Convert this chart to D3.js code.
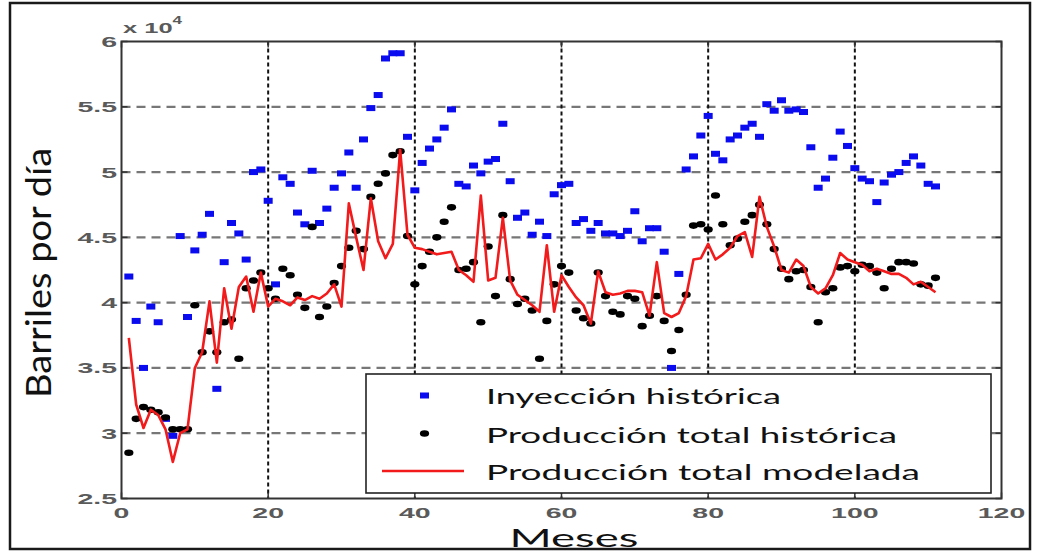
<!DOCTYPE html>
<html>
<head>
<meta charset="utf-8">
<script src="https://cdn.jsdelivr.net/npm/d3@7"></script>
<style>
  html, body { margin: 0; padding: 0; background: #fff; }
  svg { display: block; }
</style>
</head>
<body>
<svg id="chart" width="1039" height="552"></svg>
<script>
// Monthly values, in units of 10^4 barrels per day
const months = d3.range(1, 112);

const injection = [
  4.20, 3.86, 3.50, 3.97, 3.85, 3.11, 2.98, 4.51, 3.89, 4.40, 4.52, 4.68, 3.34, 4.31, 4.61, 4.53, 4.33, 5.00, 5.02, 4.78,
  4.14, 4.96, 4.91, 4.69, 4.60, 5.01, 4.61, 4.72, 4.88, 4.99, 5.15, 4.88, 5.25, 5.49, 5.59, 5.87, 5.91, 5.91, 5.27, 4.86,
  5.07, 5.18, 5.25, 5.34, 5.48, 4.91, 4.89, 5.05, 4.99, 5.08, 5.10, 5.37, 4.93, 4.65, 4.69, 4.52, 4.62, 4.51, 4.83,
  4.90, 4.91, 4.61, 4.64, 4.55, 4.61, 4.53, 4.53, 4.51, 4.55, 4.70, 4.47, 4.57, 4.57, 4.39, 3.50, 4.22, 5.02, 5.12,
  5.28, 5.43, 5.14, 5.09, 5.25, 5.28, 5.34, 5.37, 5.27, 5.52, 5.47, 5.55, 5.47, 5.48, 5.46, 5.19, 4.88, 4.95, 5.11, 5.31,
  5.20, 5.03, 4.95, 4.93, 4.77, 4.92, 4.98, 5.00, 5.07, 5.12, 5.05, 4.91, 4.89
];

const productionHist = [
  2.85, 3.11, 3.20, 3.18, 3.16, 3.12, 3.03, 3.03, 3.03, 3.98, 3.62, 3.78, 3.62, 3.85, 3.87, 3.57, 4.11, 4.17, 4.23, 4.11,
  4.03, 4.26, 4.21, 4.06, 3.96, 4.58, 3.89, 3.97, 4.15, 4.28, 4.42, 4.55, 4.41, 4.81, 4.91, 4.99, 5.13, 5.16, 4.51, 4.14,
  4.28, 4.39, 4.50, 4.62, 4.73, 4.25, 4.26, 4.31, 3.85, 4.43, 4.05, 4.67, 4.18, 3.99, 4.03, 3.94, 3.57, 3.86, 4.14,
  4.28, 4.23, 3.94, 3.88, 3.84, 4.23, 4.05, 3.93, 3.91, 4.05, 4.03, 3.82, 3.90, 4.05, 3.86, 3.63, 3.79, 4.06, 4.59,
  4.60, 4.56, 4.82, 4.60, 4.44, 4.49, 4.62, 4.67, 4.75, 4.60, 4.41, 4.26, 4.18, 4.24, 4.25, 4.12, 3.85, 4.08, 4.11, 4.27,
  4.28, 4.24, 4.29, 4.28, 4.23, 4.11, 4.26, 4.31, 4.31, 4.30, 4.14, 4.13, 4.19
];

const productionModel = [
  3.73, 3.22, 3.04, 3.18, 3.14, 3.03, 2.78, 3.00, 3.03, 3.50, 3.62, 4.01, 3.54, 4.11, 3.80, 4.12, 4.20, 3.93, 4.23, 3.97,
  4.03, 4.01, 3.98, 4.04, 4.02, 4.05, 4.03, 4.07, 4.14, 3.97, 4.76, 4.50, 4.25, 4.80, 4.47, 4.34, 4.45, 5.17, 4.52, 4.42,
  4.41, 4.39, 4.37, 4.38, 4.39, 4.25, 4.21, 4.16, 4.82, 4.17, 4.19, 4.65, 4.17, 4.06, 4.02, 3.98, 3.93, 4.44, 3.93,
  4.21, 4.12, 4.04, 3.98, 3.84, 4.24, 4.08, 4.06, 4.07, 4.09, 4.09, 4.08, 3.90, 4.31, 3.92, 3.89, 3.92, 4.05, 4.33,
  4.34, 4.45, 4.33, 4.37, 4.42, 4.51, 4.54, 4.35, 4.81, 4.58, 4.43, 4.25, 4.23, 4.33, 4.28, 4.12, 4.07, 4.11, 4.21, 4.38,
  4.33, 4.31, 4.29, 4.24, 4.26, 4.24, 4.22, 4.22, 4.19, 4.14, 4.16, 4.12, 4.08
];

const xTicks = [0, 20, 40, 60, 80, 100, 120];
const yTicks = [2.5, 3, 3.5, 4, 4.5, 5, 5.5, 6];
const yTickLabels = ["2.5", "3", "3.5", "4", "4.5", "5", "5.5", "6"];

const legendLabels = ["Inyección histórica", "Producción total histórica", "Producción total modelada"];
const xTitle = "Meses";
const yTitle = "Barriles por día";

// ---------------------------------------------------------------
const svg = d3.select("#chart");
const W = 1039, H = 552;
const plot = { left: 121.5, right: 1001.5, top: 41.5, bottom: 498.5 };

const x = d3.scaleLinear().domain([0, 120]).range([plot.left, plot.right]);
const y = d3.scaleLinear().domain([2.5, 6]).range([plot.bottom, plot.top]);

svg.append("rect").attr("width", W).attr("height", H).attr("fill", "#fff");

// outer frame
svg.append("rect")
  .attr("x", 10).attr("y", 3).attr("width", 1020).attr("height", 546)
  .attr("fill", "none").attr("stroke", "#1a1a1a").attr("stroke-width", 2.5);

// text whose glyphs are stretched to an exact advance width
function fitText(parent, str, o) {
  const t = parent.append("text")
    .attr("font-family", o.family || "Lato, 'Open Sans', sans-serif")
    .attr("font-size", o.size)
    .attr("fill", o.fill || "#000")
    .attr("font-weight", o.weight || "normal")
    .attr("text-anchor", "start")
    .text(str);
  const start = o.anchor === "middle" ? -o.width / 2 : o.anchor === "end" ? -o.width : 0;
  t.attr("x", start).attr("y", 0)
   .attr("textLength", o.width)
   .attr("lengthAdjust", "spacingAndGlyphs");
  t.attr("transform", `translate(${o.x},${o.y})` + (o.rotate ? ` rotate(${o.rotate})` : "") +
         (o.sy ? ` scale(1,${o.sy})` : ""));
  return t;
}

// grid
const grid = svg.append("g");
grid.selectAll("line.h").data(yTicks.filter(v => v > 2.5 && v < 6)).join("line")
  .attr("x1", plot.left).attr("x2", plot.right)
  .attr("y1", d => y(d)).attr("y2", d => y(d))
  .attr("stroke", "#777").attr("stroke-width", 2.2).attr("stroke-dasharray", "9 6");
grid.selectAll("line.v").data(xTicks.filter(v => v > 0 && v < 120)).join("line")
  .attr("x1", d => x(d)).attr("x2", d => x(d))
  .attr("y1", plot.top).attr("y2", plot.bottom)
  .attr("stroke", "#111").attr("stroke-width", 2).attr("stroke-dasharray", "4 3");

// axes box and inward ticks
const axes = svg.append("g");
axes.append("rect")
  .attr("x", plot.left).attr("y", plot.top)
  .attr("width", plot.right - plot.left).attr("height", plot.bottom - plot.top)
  .attr("fill", "none").attr("stroke", "#333").attr("stroke-width", 2);
const tl = 6;
xTicks.forEach(v => {
  axes.append("line").attr("x1", x(v)).attr("x2", x(v)).attr("y1", plot.bottom).attr("y2", plot.bottom - tl)
    .attr("stroke", "#333").attr("stroke-width", 1.5);
  axes.append("line").attr("x1", x(v)).attr("x2", x(v)).attr("y1", plot.top).attr("y2", plot.top + tl)
    .attr("stroke", "#333").attr("stroke-width", 1.5);
});
yTicks.forEach(v => {
  axes.append("line").attr("x1", plot.left).attr("x2", plot.left + tl).attr("y1", y(v)).attr("y2", y(v))
    .attr("stroke", "#333").attr("stroke-width", 1.5);
  axes.append("line").attr("x1", plot.right).attr("x2", plot.right - tl).attr("y1", y(v)).attr("y2", y(v))
    .attr("stroke", "#333").attr("stroke-width", 1.5);
});

// tick labels (wide, grey)
const tickFont = "'Liberation Sans', Arial, sans-serif";
yTicks.forEach((v, i) => {
  svg.append("text")
    .attr("transform", `translate(117,${y(v) + 5.5}) scale(1.9,1)`)
    .attr("text-anchor", "end")
    .attr("font-family", tickFont).attr("font-size", 15).attr("font-weight", "bold")
    .attr("fill", "#5a5a5a")
    .text(yTickLabels[i]);
});
xTicks.forEach(v => {
  svg.append("text")
    .attr("transform", `translate(${x(v)},${517.5}) scale(1.9,1)`)
    .attr("text-anchor", "middle")
    .attr("font-family", tickFont).attr("font-size", 15).attr("font-weight", "bold")
    .attr("fill", "#5a5a5a")
    .text(v);
});
// exponent label
const expo = svg.append("text")
  .attr("transform", "translate(123,33) scale(1.7,1)")
  .attr("font-family", tickFont).attr("font-size", 15).attr("font-weight", "bold").attr("fill", "#5a5a5a");
expo.append("tspan").text("x 10");
expo.append("tspan").attr("dy", -9).attr("font-size", 10).text("4");

// series
const series = svg.append("g");
series.selectAll("rect.inj").data(months).join("rect")
  .attr("x", (m) => x(m) - 4.5).attr("y", (m, i) => y(injection[i]) - 3)
  .attr("width", 9).attr("height", 6)
  .attr("fill", "#0b0bf0");
series.selectAll("ellipse.prod").data(months).join("ellipse")
  .attr("cx", m => x(m)).attr("cy", (m, i) => y(productionHist[i]))
  .attr("rx", 4.6).attr("ry", 3.3)
  .attr("fill", "#000");
const line = d3.line().x(m => x(m)).y((m, i) => y(productionModel[i]));
series.append("path").datum(months)
  .attr("d", line)
  .attr("fill", "none").attr("stroke", "#f21a1a").attr("stroke-width", 2.6)
  .attr("stroke-linejoin", "round");

// legend
const lg = svg.append("g");
lg.append("rect").attr("x", 366).attr("y", 374).attr("width", 625).attr("height", 119)
  .attr("fill", "#fff").attr("stroke", "#222").attr("stroke-width", 1.6);
lg.append("rect").attr("x", 420).attr("y", 392.5).attr("width", 9).attr("height", 6).attr("fill", "#0b0bf0");
lg.append("ellipse").attr("cx", 424.5).attr("cy", 433.5).attr("rx", 4.6).attr("ry", 3.3).attr("fill", "#000");
lg.append("line").attr("x1", 382).attr("x2", 464).attr("y1", 471).attr("y2", 471)
  .attr("stroke", "#f21a1a").attr("stroke-width", 2.6);
const legendY = [404, 443, 480];
const legendW = [295, 411, 434];
legendLabels.forEach((s, i) => {
  fitText(lg, s, { x: 486, y: legendY[i], size: 21, width: legendW[i], fill: "#111" });
});

// axis titles
fitText(svg, xTitle, { x: 574, y: 547, size: 25, width: 129, anchor: "middle", fill: "#111" });
fitText(svg, yTitle, { x: 51, y: 273, size: 27, width: 250, anchor: "middle", rotate: -90, sy: 1.3, fill: "#111" });
</script>
</body>
</html>
